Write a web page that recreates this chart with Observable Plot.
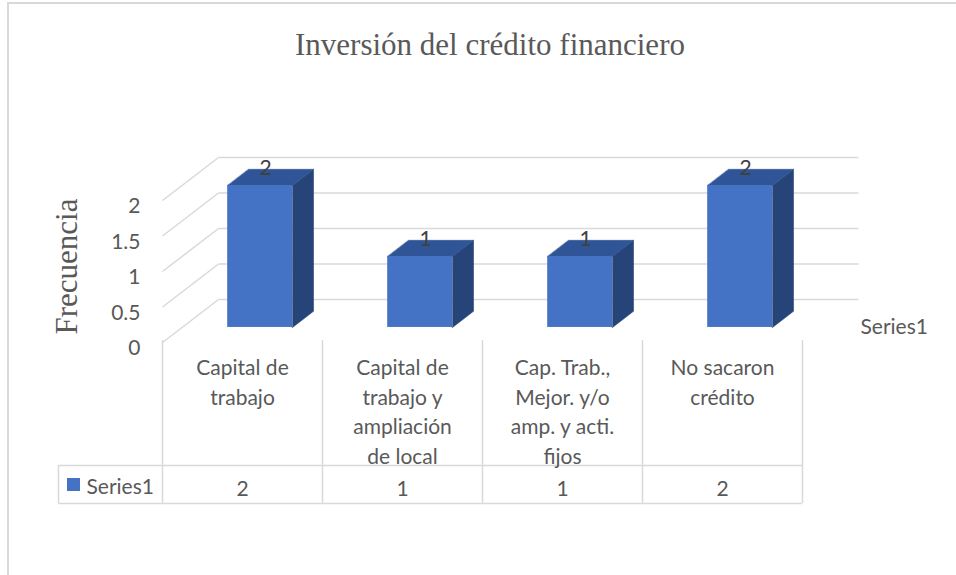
<!DOCTYPE html>
<html>
<head>
<meta charset="utf-8">
<script src="https://cdn.jsdelivr.net/npm/d3@7"></script>
<script src="https://cdn.jsdelivr.net/npm/@observablehq/plot@0.6"></script>
<style>
  html, body { margin: 0; padding: 0; background: #fff; overflow: hidden; }
  #wrap { position: relative; width: 956px; height: 575px; overflow: hidden; background: #fff; }
  #border { position: absolute; left: 7px; top: 2px; width: 1200px; height: 1200px; border: 2px solid #d9d9d9; box-sizing: border-box; }
  #chart { position: absolute; left: 0; top: 0; }
  #title { position: absolute; left: 0; width: 980px; top: 29px; line-height: 31px; text-align: center;
           font-family: "Liberation Serif", serif; font-size: 31px; color: #595959; white-space: nowrap; }
</style>
</head>
<body>
<div id="wrap">
  <div id="border"></div>
  <div id="chart"></div>
  <div id="title">Inversión del crédito financiero</div>
</div>
<script>
// ---- data ----
const categories = ["Capital de\ntrabajo", "Capital de\ntrabajo y\nampliación\nde local", "Cap. Trab.,\nMejor. y/o\namp. y acti.\nfijos", "No sacaron\ncrédito"];
const values = [2, 1, 1, 2];
const seriesName = "Series1";
const yTicks = [0, 0.5, 1, 1.5, 2];
const yTitle = "Frecuencia";

// ---- layout / 3D projection constants ----
const PX0 = 162, PX_COL = 160, PY0 = 342, PY_UNIT = 71;
const xPx = p => (p - PX0) / PX_COL;
const yPx = p => (PY0 - p) / PY_UNIT;
const DX = 56 / PX_COL, DY = 43 / PY_UNIT;   // full wall depth offset in data units
const D1 = 0.35, D2 = 0.725;                  // bar front / back depth (fraction of wall)
const G0 = 0.285, G1 = 0.69;                  // bar extent within its column
const GRID = "#d9d9d9", BLUE = "#4472C4", TOP = "#2F5597", SIDE = "#264478";
const TEXT = "#595959";

const bars = values.map((v, i) => ({i, v}));
const P = (b, g, d, h) => ({id: b.i, x: b.i + g + DX * d, y: h + DY * d});
const topFaces = bars.flatMap(b => [P(b, G0, D1, b.v), P(b, G1, D1, b.v), P(b, G1, D2, b.v), P(b, G0, D2, b.v)]);
const sideFaces = bars.flatMap(b => [P(b, G1, D1, 0), P(b, G1, D2, 0), P(b, G1, D2, b.v), P(b, G1, D1, b.v)]);
const colEdges = d3.range(categories.length + 1);

const chart = Plot.plot({
  width: 956, height: 575,
  marginLeft: 162, marginRight: 154, marginTop: 200, marginBottom: 233,
  x: {type: "linear", domain: [0, categories.length], axis: null},
  y: {type: "linear", domain: [0, 2]},
  style: {fontFamily: "Lato", fontSize: "21px", color: TEXT, background: "transparent", overflow: "visible"},
  marks: [
    // walls
    Plot.link(yTicks, {x1: () => 0, y1: d => d, x2: () => DX, y2: d => d + DY, stroke: GRID, strokeWidth: 1.5}),
    Plot.link(yTicks, {x1: () => DX, x2: () => categories.length + DX, y1: d => d + DY, y2: d => d + DY, stroke: GRID, strokeWidth: 1.5}),
    Plot.axisY(yTicks, {tickSize: 0, tickPadding: 22, tickFormat: d => String(d), label: null, fontSize: 21, dy: 6, fill: TEXT}),
    // data table grid
    Plot.ruleX(colEdges, {y1: () => yPx(340), y2: () => yPx(503), stroke: GRID, strokeWidth: 1.5}),
    Plot.ruleX([xPx(58)], {y1: () => yPx(465), y2: () => yPx(503), stroke: GRID, strokeWidth: 1.5}),
    Plot.ruleY([yPx(465), yPx(503)], {x1: () => xPx(58), x2: () => categories.length, stroke: GRID, strokeWidth: 1.5}),
    // 3D bars
    Plot.line(sideFaces, {x: "x", y: "y", z: "id", curve: "linear-closed", fill: SIDE, stroke: SIDE, strokeWidth: 0.6}),
    Plot.line(topFaces, {x: "x", y: "y", z: "id", curve: "linear-closed", fill: TOP, stroke: TOP, strokeWidth: 0.6}),
    Plot.rect(bars, {x1: b => b.i + G0 + DX * D1, x2: b => b.i + G1 + DX * D1, y1: () => DY * D1, y2: b => b.v + DY * D1, fill: BLUE}),
    // data labels
    Plot.text(bars, {x: b => b.i + (G0 + G1) / 2 + DX * (D1 + 0.1), y: b => b.v + DY * D2, text: b => String(b.v), fill: "#404040", fontSize: 21, dy: -1}),
    // category labels (table header)
    Plot.text(categories, {x: (d, i) => i + 0.5, y: () => yPx(354), text: d => d, lineAnchor: "top", lineHeight: 1.4, fontSize: 21, fill: TEXT}),
    // values row
    Plot.text(values, {x: (d, i) => i + 0.5, y: () => yPx(489), text: d => String(d), fontSize: 21, fill: TEXT}),
    // legend key in table
    Plot.rect([seriesName], {x1: () => xPx(67), x2: () => xPx(80), y1: () => yPx(478), y2: () => yPx(491), fill: BLUE}),
    Plot.text([seriesName], {x: () => xPx(86), y: () => yPx(487), text: d => d, textAnchor: "start", fontSize: 21, fill: TEXT}),
    // series (depth) axis label
    Plot.text([seriesName], {x: () => xPx(860), y: () => yPx(327), text: d => d, textAnchor: "start", fontSize: 21, fill: TEXT}),
    // y axis title
    Plot.text([yTitle], {x: () => xPx(67), y: () => yPx(266), text: d => d, rotate: -90, fontFamily: "Liberation Serif", fontSize: 31, fill: TEXT})
  ]
});
document.getElementById("chart").appendChild(chart);
</script>
</body>
</html>
